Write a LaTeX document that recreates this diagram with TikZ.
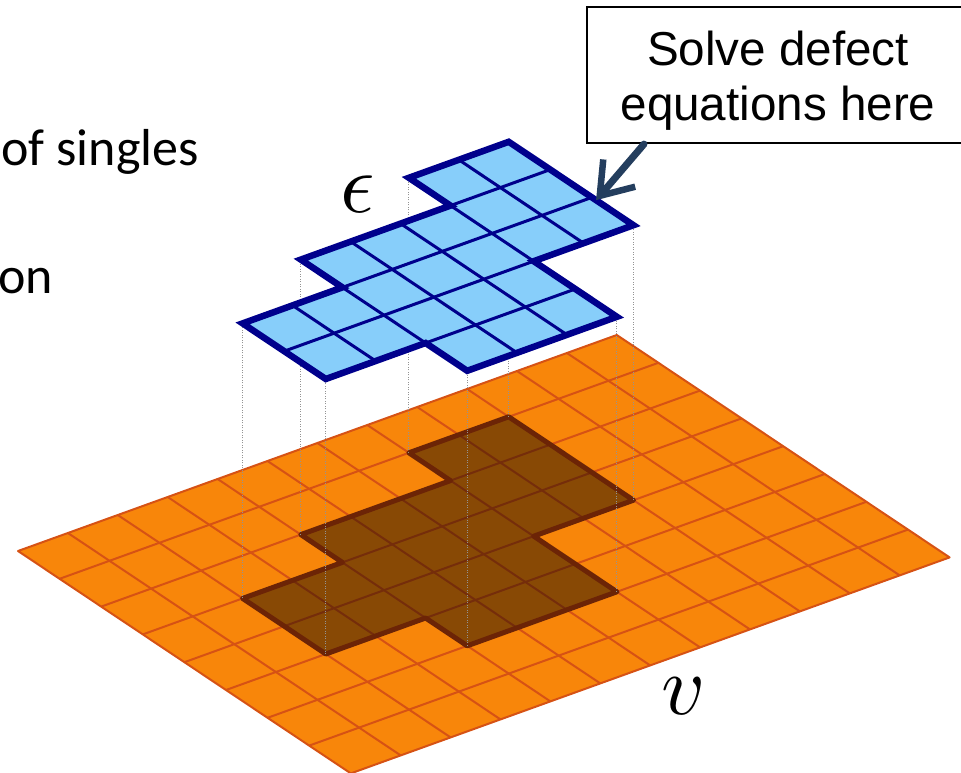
\documentclass[tikz,border=0pt]{standalone}
\usepackage{fontspec}
\newfontfamily\slidefont{Carlito}
\newfontfamily\calloutfont{Liberation Sans}
\usetikzlibrary{arrows.meta,positioning}
\definecolor{plateorange}{RGB}{248,134,10}
\definecolor{plateline}{RGB}{214,82,20}
\definecolor{patchedge}{RGB}{108,36,6}
\definecolor{defectblue}{RGB}{135,206,250}
\definecolor{defectedge}{RGB}{0,0,140}
\definecolor{pointercol}{RGB}{36,62,94}
% outline of the refined patch, in cell units of the plate
\newcommand{\patchpath}{(2,3) -- (4,3) -- (4,2) -- (7,2) -- (7,1) -- (9,1) -- (9,4)
  -- (7,4) -- (7,6) -- (4,6) -- (4,5) -- (2,5) -- cycle}

\begin{document}
\begin{tikzpicture}[x=1pt, y=-1pt,
  plate/.style={x={(49.9pt,18pt)}, y={(41.6pt,-27.8pt)}},
  gridline/.style={draw=plateline, line width=2pt},
  patchline/.style={draw=patchedge, line width=5pt, line join=round},
  defectline/.style={draw=defectedge, line width=3pt},
  defectrim/.style={draw=defectedge, line width=6.5pt},
  dropline/.style={draw=gray!85, line width=0.9pt, dash pattern=on 1pt off 1.5pt},
  mathlbl/.style={inner sep=0pt, scale=8.5},
  slidetext/.style={inner sep=0pt, font=\slidefont\fontsize{52}{60}\selectfont},
  callout/.style={draw, line width=2.2pt, fill=white, inner sep=0pt,
    minimum width=382pt, minimum height=136pt, align=center,
    font=\calloutfont\fontsize{47.6}{55}\selectfont},
  pointer/.style={-{Straight Barb[length=30pt,width=42pt,line width=6.5pt]},
    line width=7pt, draw=pointercol, line cap=round}
]
\useasboundingbox (0,0) rectangle (961,773);
\clip (0,0) rectangle (961,773);

% coarse plate v
\begin{scope}[shift={(18pt,-551pt)}, plate]
  \fill[plateorange] (0,0) -- (12,0) -- (12,8) -- (0,8) -- cycle;
  \foreach \i in {1,...,11} \draw[gridline] (\i,0) -- (\i,8);
  \foreach \j in {1,...,7} \draw[gridline] (0,\j) -- (12,\j);
  \draw[gridline, line join=round] (0,0) -- (12,0) -- (12,8) -- (0,8) -- cycle;
  \fill[black, fill opacity=0.45] \patchpath;
  \draw[patchline] \patchpath;
  \foreach \i/\j in {2/3,4/2,7/1,9/1,9/4,7/6,4/6,2/5}
    \draw[dropline] (\i,\j) -- ++(0pt,275pt);
\end{scope}

% defect patch epsilon
\begin{scope}[shift={(18pt,-276pt)}, plate]
  \fill[defectblue] \patchpath;
  \begin{scope}
    \clip \patchpath;
    \foreach \i in {3,...,8} \draw[defectline] (\i,1) -- (\i,6);
    \foreach \j in {2,...,5} \draw[defectline] (2,\j) -- (9,\j);
  \end{scope}
  \draw[defectrim] \patchpath;
  \coordinate (target) at (9,3.1);
\end{scope}

\node[mathlbl] (eps) at (358,194) {$\epsilon$};
\node[mathlbl] (vlbl) at (684,696) {$v$};
\node[slidetext, anchor=base east] (singles) at (199,165) {of singles};
\node[slidetext, anchor=base east] (on) at (53,293) {on};
\node[callout] (note) at (778,75) {\rule{0pt}{45pt}Solve defect\\equations here};
\draw[pointer] ([xshift=-134pt]note.south) -- (target);
\end{tikzpicture}
\end{document}
